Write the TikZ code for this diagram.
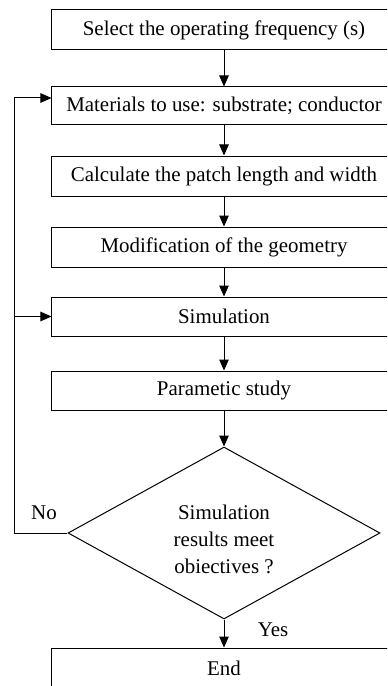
\documentclass[tikz,border=0pt]{standalone}
\usepackage{fontspec}
\setmainfont{Liberation Serif}
\usetikzlibrary{arrows.meta,shapes.geometric}
\begin{document}
\begin{tikzpicture}[x=1bp,y=-1bp,
  every node/.style={font=\fontsize{21}{27}\selectfont},
  procbox/.style={draw,line width=1bp,minimum width=344bp,inner sep=0pt,anchor=center},
  decbox/.style={draw,line width=1bp,diamond,aspect=1.814,minimum width=312bp,minimum height=172bp,inner sep=0pt},
  arr/.style={line width=1bp,-{Triangle[length=11bp,width=9.5bp]}}]
\clip (0,0) rectangle (387,686);
\node[procbox,minimum height=40bp] (s1) at (224,30) {Select the operating frequency (s)};
\node[procbox,minimum height=37bp] (s2) at (224,105.5) {Materials to use: substrate; conductor};
\node[procbox,minimum height=40bp] (s3) at (224,176) {Calculate the patch length and width};
\node[procbox,minimum height=40bp] (s4) at (224,247) {Modification of the geometry};
\node[procbox,minimum height=39bp] (s5) at (224,316.5) {Simulation};
\node[procbox,minimum height=39bp] (s6) at (224,390.5) {Parametic study};
\node[decbox] (d) at (224,533) {};
\node[align=center] (dt) at (224,539) {Simulation\\results meet\\obiectives ?};
\node[procbox,minimum height=40bp] (e) at (224,668) {End};
\draw[arr] (s1) -- (s2);
\draw[arr] (s2) -- (s3);
\draw[arr] (s3) -- (s4);
\draw[arr] (s4) -- (s5);
\draw[arr] (s5) -- (s6);
\draw[arr] (s6) -- (d);
\draw[arr] (d) -- (e);
\coordinate (lp) at (14,533);
\draw[arr] (d.west) -- (lp) |- ([yshift=7.5bp]s2.west);
\draw[arr] (lp |- s5.west) -- (s5.west);
\node (no) at (44,513) {No};
\node (yes) at (273,630) {Yes};
\end{tikzpicture}
\end{document}
